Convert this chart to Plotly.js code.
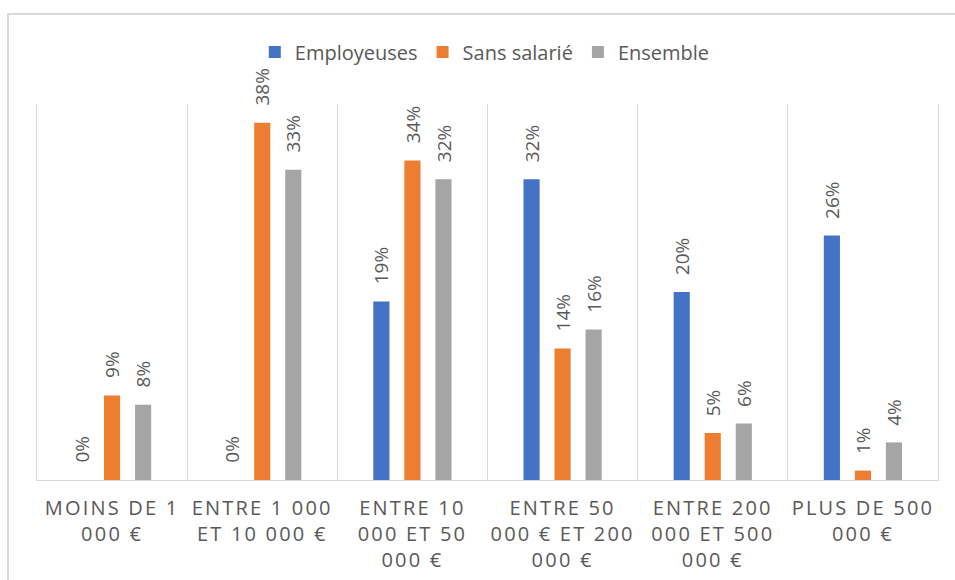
<!DOCTYPE html>
<html>
<head>
<meta charset="utf-8">
<script src="https://cdn.plot.ly/plotly-3.0.1.min.js"></script>
<style>
  html, body { margin: 0; padding: 0; background: #ffffff; }
  #wrap { position: relative; width: 955px; height: 580px; overflow: hidden; }
  #frame { position: absolute; left: 7px; top: 13px; width: 1200px; height: 1200px;
           border-left: 2px solid #d9d9d9; border-top: 2px solid #d9d9d9; box-sizing: border-box; }
  #chart { position: absolute; left: 0; top: 0; width: 955px; height: 580px; }
  .xtick text { letter-spacing: 2.2px; }
</style>
</head>
<body>
<div id="wrap">
  <div id="frame"></div>
  <div id="chart"></div>
</div>
<script>
const categories = [
  "Moins de 1 000 €",
  "Entre 1 000 et 10 000 €",
  "Entre 10 000 et 50 000 €",
  "Entre 50 000 € et 200 000 €",
  "Entre 200 000 et 500 000 €",
  "Plus de 500 000 €"
];
const tickLabels = [
  "MOINS DE 1<br>000 €",
  "ENTRE 1 000<br>ET 10 000 €",
  "ENTRE 10<br>000 ET 50<br>000 €",
  "ENTRE 50<br>000 € ET 200<br>000 €",
  "ENTRE 200<br>000 ET 500<br>000 €",
  "PLUS DE 500<br>000 €"
];
const seriesNames = ["Employeuses", "Sans salarié", "Ensemble"];
const employeuses = [0, 0, 19, 32, 20, 26];
const sansSalarie = [9, 38, 34, 14, 5, 1];
const ensemble = [8, 33, 32, 16, 6, 4];
const seriesColors = ["#4472C4", "#ED7D31", "#A5A5A5"];

const FONT = "Open Sans, Noto Sans, sans-serif";
const TXT = "#595959";
const BARGAP = 0.38;
const BARGROUPGAP = 0.48;

const allSeries = [employeuses, sansSalarie, ensemble];
const traces = allSeries.map((vals, i) => ({
  type: "bar",
  name: seriesNames[i],
  x: categories,
  y: vals,
  marker: { color: seriesColors[i] },
  hoverinfo: "skip"
}));

// data labels as annotations, anchored on each bar's value (grouped offset from the layout gap)
const slot = (1 - BARGAP) / allSeries.length;
const annotations = [];
allSeries.forEach((vals, j) => {
  vals.forEach((v, i) => {
    annotations.push({
      xref: "x", yref: "y",
      x: i + (j - (allSeries.length - 1) / 2) * slot,
      y: v,
      text: v + "%",
      textangle: -90,
      showarrow: false,
      xanchor: "center",
      yanchor: "bottom",
      yshift: 15,
      font: { family: FONT, size: 19, color: TXT }
    });
  });
});

const layout = {
  width: 955,
  height: 580,
  margin: { l: 37, r: 17, t: 104, b: 100 },
  paper_bgcolor: "rgba(0,0,0,0)",
  plot_bgcolor: "rgba(0,0,0,0)",
  barmode: "group",
  bargap: BARGAP,
  bargroupgap: BARGROUPGAP,
  showlegend: true,
  legend: {
    orientation: "h",
    x: 0.497, xanchor: "center",
    y: 1.138, yanchor: "middle",
    font: { family: FONT, size: 20, color: TXT },
    traceorder: "normal"
  },
  annotations: annotations,
  xaxis: {
    type: "category",
    tickmode: "array",
    tickvals: categories,
    ticktext: tickLabels,
    tickson: "boundaries",
    ticks: "",
    ticklabelstandoff: 10,
    showgrid: true,
    gridcolor: "#d9d9d9",
    gridwidth: 1,
    showline: true,
    linecolor: "#d9d9d9",
    linewidth: 1,
    tickfont: { family: FONT, size: 20, color: TXT },
    fixedrange: true
  },
  yaxis: {
    range: [0, 40],
    showgrid: false,
    zeroline: false,
    showticklabels: false,
    ticks: "",
    showline: true,
    mirror: true,
    linecolor: "#d9d9d9",
    linewidth: 1,
    fixedrange: true
  }
};

Plotly.newPlot("chart", traces, layout, { displayModeBar: false, staticPlot: true });
</script>
</body>
</html>
